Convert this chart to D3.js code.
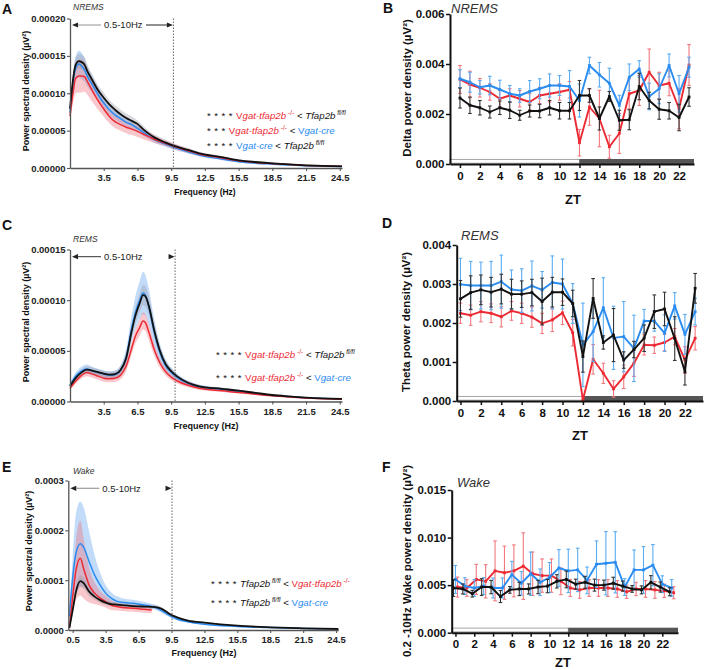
<!DOCTYPE html>
<html><head><meta charset="utf-8">
<script src="https://cdn.jsdelivr.net/npm/d3@7"></script>
<style>body{margin:0;background:#fff}svg{display:block}text{font-family:"Liberation Sans",Arial,sans-serif}</style>
</head><body><svg id="c" width="704" height="670"></svg>
<script>
// ---------- DATA ----------
// Panel A – NREMS spectrum
const fA = [0.5,0.8,1.0,1.3,1.5,1.8,2.0,2.5,3.0,3.5,4.0,4.5,5.0,5.5,6.0,6.5,7.0,7.5,8.0,9.0,10,11,12,14,15.5,17,18.5,20,21.5,23,24.7];
const aBlack = [7.9e-5,12.2e-5,13.8e-5,14.3e-5,14.2e-5,13.8e-5,13.1e-5,11.7e-5,10.4e-5,9.4e-5,8.5e-5,7.8e-5,7.2e-5,6.7e-5,6.3e-5,5.9e-5,5.2e-5,4.6e-5,4.1e-5,3.4e-5,2.85e-5,2.41e-5,1.96e-5,1.45e-5,1.03e-5,0.8e-5,0.63e-5,0.48e-5,0.36e-5,0.28e-5,0.22e-5];
const aBlue  = [7.4e-5,11.8e-5,13.3e-5,13.9e-5,13.7e-5,13.1e-5,12.4e-5,11.1e-5,9.8e-5,8.7e-5,7.8e-5,7.1e-5,6.6e-5,6.1e-5,5.8e-5,5.3e-5,4.8e-5,4.3e-5,3.8e-5,3.2e-5,2.63e-5,2.18e-5,1.74e-5,1.2e-5,0.85e-5,0.65e-5,0.52e-5,0.4e-5,0.3e-5,0.25e-5,0.2e-5];
const aRed   = [6.95e-5,10.4e-5,12.0e-5,12.3e-5,12.3e-5,12.2e-5,11.7e-5,10.3e-5,9.0e-5,7.9e-5,6.9e-5,6.2e-5,5.8e-5,5.45e-5,5.2e-5,4.9e-5,4.55e-5,4.2e-5,3.85e-5,3.3e-5,2.76e-5,2.32e-5,1.87e-5,1.35e-5,0.98e-5,0.75e-5,0.6e-5,0.46e-5,0.35e-5,0.28e-5,0.22e-5];
const aBlackSem = [0.4e-5,0.8e-5,1.0e-5,1.0e-5,1.0e-5,1.0e-5,0.9e-5,0.8e-5,0.7e-5,0.7e-5,0.6e-5,0.6e-5,0.6e-5,0.6e-5,0.6e-5,0.5e-5,0.5e-5,0.4e-5,0.4e-5,0.35e-5,0.3e-5,0.25e-5,0.2e-5,0.15e-5,0.12e-5,0.1e-5,0.08e-5,0.06e-5,0.05e-5,0.04e-5,0.03e-5];
const aBlueSem  = [0.5e-5,1.2e-5,1.6e-5,1.8e-5,1.8e-5,1.6e-5,1.4e-5,1.1e-5,0.9e-5,0.8e-5,0.7e-5,0.6e-5,0.6e-5,0.6e-5,0.6e-5,0.5e-5,0.5e-5,0.45e-5,0.4e-5,0.35e-5,0.3e-5,0.25e-5,0.2e-5,0.15e-5,0.12e-5,0.1e-5,0.08e-5,0.06e-5,0.05e-5,0.04e-5,0.03e-5];
const aRedSem   = [0.6e-5,1.5e-5,2.0e-5,2.2e-5,2.2e-5,2.0e-5,1.8e-5,1.5e-5,1.2e-5,1.0e-5,0.9e-5,0.85e-5,0.8e-5,0.8e-5,0.8e-5,0.75e-5,0.7e-5,0.6e-5,0.5e-5,0.4e-5,0.35e-5,0.3e-5,0.25e-5,0.2e-5,0.15e-5,0.12e-5,0.1e-5,0.08e-5,0.06e-5,0.05e-5,0.04e-5];

// Panel C – REMS spectrum
const fC = [0.5,1.0,1.5,2.0,2.5,3.0,3.5,4.0,4.5,5.0,5.5,6.0,6.3,6.7,7.0,7.2,7.5,8.0,8.5,9.0,9.5,10,11,12,14,15.5,17,18.5,20,21.5,23,24.7];
const cBlack = [1.5e-5,2.3e-5,2.85e-5,3.15e-5,3.05e-5,2.9e-5,2.75e-5,2.65e-5,2.7e-5,3.1e-5,4.3e-5,7.0e-5,8.4e-5,9.7e-5,10.5e-5,10.4e-5,9.5e-5,7.0e-5,5.0e-5,3.7e-5,3.0e-5,2.5e-5,1.85e-5,1.5e-5,1.25e-5,1.07e-5,0.85e-5,0.64e-5,0.5e-5,0.38e-5,0.3e-5,0.25e-5];
const cBlue  = [1.6e-5,2.5e-5,3.0e-5,3.2e-5,3.0e-5,2.85e-5,2.7e-5,2.6e-5,2.65e-5,3.1e-5,4.4e-5,7.3e-5,8.7e-5,10.0e-5,10.7e-5,10.5e-5,9.4e-5,6.8e-5,4.8e-5,3.55e-5,2.9e-5,2.4e-5,1.8e-5,1.45e-5,1.2e-5,1.0e-5,0.8e-5,0.6e-5,0.48e-5,0.37e-5,0.3e-5,0.25e-5];
const cRed   = [1.3e-5,2.0e-5,2.55e-5,2.85e-5,2.7e-5,2.5e-5,2.3e-5,2.25e-5,2.3e-5,2.6e-5,3.5e-5,5.3e-5,6.4e-5,7.3e-5,7.95e-5,7.8e-5,6.9e-5,5.1e-5,3.8e-5,2.95e-5,2.4e-5,2.05e-5,1.6e-5,1.3e-5,1.05e-5,0.9e-5,0.72e-5,0.56e-5,0.44e-5,0.34e-5,0.27e-5,0.22e-5];
const cBlackSem = [0.2e-5,0.25e-5,0.3e-5,0.3e-5,0.3e-5,0.3e-5,0.3e-5,0.3e-5,0.3e-5,0.4e-5,0.5e-5,0.7e-5,0.8e-5,0.9e-5,1.0e-5,1.0e-5,0.9e-5,0.7e-5,0.5e-5,0.4e-5,0.3e-5,0.25e-5,0.2e-5,0.15e-5,0.12e-5,0.1e-5,0.08e-5,0.06e-5,0.05e-5,0.04e-5,0.03e-5,0.03e-5];
const cBlueSem  = [0.25e-5,0.35e-5,0.4e-5,0.45e-5,0.4e-5,0.35e-5,0.35e-5,0.35e-5,0.4e-5,0.5e-5,0.8e-5,1.3e-5,1.6e-5,1.9e-5,2.1e-5,2.0e-5,1.8e-5,1.3e-5,0.9e-5,0.6e-5,0.45e-5,0.35e-5,0.25e-5,0.2e-5,0.15e-5,0.12e-5,0.1e-5,0.08e-5,0.06e-5,0.05e-5,0.04e-5,0.03e-5];
const cRedSem   = [0.2e-5,0.25e-5,0.3e-5,0.35e-5,0.35e-5,0.35e-5,0.35e-5,0.35e-5,0.35e-5,0.4e-5,0.5e-5,0.6e-5,0.7e-5,0.8e-5,0.85e-5,0.85e-5,0.8e-5,0.6e-5,0.45e-5,0.35e-5,0.3e-5,0.25e-5,0.2e-5,0.15e-5,0.12e-5,0.1e-5,0.08e-5,0.06e-5,0.05e-5,0.04e-5,0.03e-5,0.03e-5];

// Panel E – Wake spectrum
const fE = [0.2,0.5,0.8,1.2,1.5,2.0,2.5,3.0,3.5,4.0,4.5,5.0,6.0,7.0,7.7,8.0,8.5,9.0,9.5,10,11,12.5,15.5,18.5,21.5,24.7];
const fERed = [0.2,0.5,0.8,1.2,1.5,2.0,2.5,3.0,3.5,4.0,4.5,5.0,6.0,7.0,7.7];
const eBlack = [0.4e-5,4.0e-5,7.7e-5,9.8e-5,9.4e-5,7.7e-5,6.7e-5,6.0e-5,5.5e-5,5.2e-5,5.1e-5,5.0e-5,4.8e-5,4.7e-5,4.65e-5,4.6e-5,4.35e-5,3.7e-5,3.0e-5,2.55e-5,1.9e-5,1.47e-5,0.86e-5,0.54e-5,0.34e-5,0.2e-5];
const eBlue  = [2.7e-5,10.5e-5,15.4e-5,17.3e-5,16.6e-5,13.7e-5,11.0e-5,9.0e-5,7.4e-5,6.4e-5,5.8e-5,5.55e-5,5.35e-5,5.0e-5,4.7e-5,4.55e-5,4.0e-5,3.35e-5,2.7e-5,2.2e-5,1.65e-5,1.15e-5,0.72e-5,0.48e-5,0.3e-5,0.18e-5];
const eRed   = [0.4e-5,6.7e-5,12.0e-5,14.4e-5,12.3e-5,9.0e-5,7.4e-5,6.4e-5,5.7e-5,5.0e-5,4.7e-5,4.5e-5,4.35e-5,4.15e-5,4.0e-5];
const eBlackSem = [0.1e-5,0.6e-5,1.0e-5,1.2e-5,1.1e-5,0.9e-5,0.7e-5,0.6e-5,0.5e-5,0.5e-5,0.45e-5,0.45e-5,0.4e-5,0.4e-5,0.4e-5,0.4e-5,0.35e-5,0.3e-5,0.25e-5,0.2e-5,0.15e-5,0.12e-5,0.08e-5,0.05e-5,0.04e-5,0.03e-5];
const eBlueSem  = [0.5e-5,4.0e-5,8.0e-5,8.5e-5,8.0e-5,6.0e-5,4.0e-5,2.5e-5,1.6e-5,1.2e-5,1.0e-5,0.8e-5,0.7e-5,0.6e-5,0.55e-5,0.5e-5,0.45e-5,0.4e-5,0.35e-5,0.3e-5,0.2e-5,0.15e-5,0.1e-5,0.07e-5,0.05e-5,0.04e-5];
const eRedSem   = [0.3e-5,3.0e-5,6.0e-5,7.5e-5,6.0e-5,3.5e-5,2.2e-5,1.5e-5,1.2e-5,1.0e-5,0.8e-5,0.7e-5,0.7e-5,0.7e-5,0.7e-5];

// Spectrum tick labels
const specXTicksAC = [3.5,6.5,9.5,12.5,15.5,18.5,21.5,24.5];
const specXTicksE  = [0.5,3.5,6.5,9.5,12.5,15.5,18.5,21.5,24.5];
const aYTicks = [0,0.00005,0.0001,0.00015,0.0002];
const cYTicks = [0,0.00005,0.0001,0.00015];
const eYTicks = [0,0.0001,0.0002,0.0003];

// ZT panels
const zt = [0,1,2,3,4,5,6,7,8,9,10,11,12,13,14,15,16,17,18,19,20,21,22,23];
const ztTicks = [0,2,4,6,8,10,12,14,16,18,20,22];

// Panel B – Delta power (NREMS)
const bBlue  = [0.00341,0.00327,0.00307,0.00314,0.00298,0.00281,0.00274,0.0029,0.00301,0.00314,0.00314,0.0031,0.00254,0.00394,0.00357,0.00323,0.00235,0.00347,0.0038,0.0027,0.00301,0.00394,0.00281,0.00387];
const bBlueErr = [0.00036,0.0004,0.00027,0.00037,0.00037,0.00033,0.00027,0.00044,0.0004,0.00046,0.0004,0.00064,0.00066,0.00033,0.00049,0.0006,0.0004,0.00053,0.00033,0.00053,0.0006,0.00046,0.00073,0.0004];
const bRed   = [0.00338,0.00318,0.00305,0.00288,0.00261,0.00274,0.00261,0.00248,0.00274,0.00281,0.00288,0.00297,0.00085,0.00228,0.00182,0.00069,0.00122,0.00281,0.00294,0.00367,0.00314,0.00323,0.00221,0.00396];
const bRedErr = [0.00056,0.00053,0.00037,0.00033,0.00033,0.00027,0.00033,0.00033,0.00033,0.00033,0.00033,0.00033,0.00053,0.00073,0.00113,0.00046,0.0008,0.0006,0.0006,0.00093,0.00053,0.0005,0.0008,0.00082];
const bBlack = [0.00264,0.00235,0.00225,0.00208,0.00225,0.00215,0.00195,0.00212,0.00212,0.00225,0.00213,0.00213,0.00274,0.00274,0.00182,0.0027,0.00175,0.00177,0.0031,0.00254,0.00219,0.00213,0.00186,0.00268];
const bBlackErr = [0.0004,0.00033,0.00029,0.00024,0.00027,0.00033,0.0002,0.00024,0.00027,0.00029,0.00033,0.00033,0.0006,0.00027,0.00046,0.0002,0.0004,0.0004,0.00053,0.00033,0.0004,0.00033,0.00053,0.00037];
const bYTicks = [0,0.002,0.004,0.006];

// Panel D – Theta power (REMS)
const dBlue  = [0.00299,0.00296,0.00296,0.00296,0.00306,0.00286,0.00283,0.00295,0.00285,0.00304,0.003,0.0025,0.00144,0.00178,0.00239,0.00162,0.00165,0.00135,0.00205,0.00205,0.00174,0.00244,0.00171,0.00229];
const dBlueErr = [0.00067,0.00062,0.0006,0.00062,0.00068,0.0005,0.00056,0.00064,0.00047,0.00068,0.00064,0.00051,0.00107,0.00077,0.00077,0.00081,0.0009,0.00085,0.0003,0.00026,0.00047,0.00034,0.00051,0.00034];
const dRed   = [0.00225,0.0022,0.00229,0.00225,0.00216,0.00231,0.00225,0.00215,0.00199,0.00208,0.00226,0.00175,0.00003,0.00107,0.00071,0.00031,0.00062,0.00097,0.00144,0.00143,0.0015,0.00165,0.00105,0.00161];
const dRedErr = [0.00026,0.00026,0.00026,0.00024,0.00026,0.00024,0.00026,0.00026,0.00026,0.0003,0.0003,0.00034,0.00009,0.00038,0.00026,0.00021,0.0003,0.00034,0.00026,0.00021,0.00021,0.00021,0.00034,0.0003];
const dBlack = [0.00262,0.00278,0.00285,0.00279,0.00287,0.00274,0.00274,0.00278,0.00255,0.00279,0.00279,0.0025,0.00114,0.00263,0.0015,0.00169,0.00105,0.00132,0.00161,0.00229,0.00236,0.0016,0.00075,0.00289];
const dBlackErr = [0.00047,0.00043,0.00038,0.00038,0.00038,0.00038,0.00034,0.00034,0.0006,0.00038,0.00034,0.00034,0.0004,0.00051,0.00017,0.00068,0.00021,0.00021,0.00034,0.00043,0.00043,0.00056,0.00034,0.00038];
const dYTicks = [0,0.001,0.002,0.003,0.004];

// Panel F – 0.2-10 Hz Wake power
const fBlue  = [0.0056,0.0049,0.0047,0.0049,0.0047,0.0047,0.0061,0.0052,0.0062,0.0053,0.0058,0.0068,0.0065,0.0066,0.0055,0.0072,0.0073,0.0074,0.0048,0.0066,0.0066,0.0071,0.0051,0.0047];
const fBlueErr = [0.00147,0.00088,0.00088,0.00088,0.00105,0.00105,0.0014,0.00123,0.00228,0.0014,0.00158,0.00193,0.00228,0.00228,0.0014,0.00245,0.00333,0.00322,0.00088,0.0021,0.00245,0.00217,0.00088,0.00088];
const fRed   = [0.0048,0.0047,0.0056,0.0054,0.0065,0.0063,0.0065,0.007,0.0062,0.006,0.006,0.0054,0.0047,0.0045,0.0047,0.0047,0.0047,0.0046,0.0043,0.0046,0.0046,0.0045,0.0044,0.0042];
const fRedErr = [0.00105,0.00088,0.00158,0.00175,0.00315,0.0028,0.00273,0.0035,0.00228,0.00175,0.00175,0.0014,0.00088,0.00088,0.00088,0.00088,0.00088,0.00088,0.0007,0.0007,0.00088,0.00088,0.0007,0.00063];
const fBlack = [0.0047,0.0046,0.0041,0.0048,0.0048,0.0038,0.0045,0.0046,0.0046,0.0048,0.0049,0.0054,0.0056,0.0051,0.0053,0.005,0.005,0.0052,0.0049,0.0046,0.0045,0.0053,0.0048,0.0043];
const fBlackErr = [0.00088,0.00053,0.00035,0.00088,0.0007,0.00063,0.00035,0.0007,0.00053,0.0007,0.0007,0.0007,0.00088,0.00053,0.00063,0.00063,0.00053,0.00063,0.00053,0.00035,0.00042,0.0007,0.00053,0.00042];
const fYTicks = [0,0.005,0.010,0.015];

// ---------- STYLE ----------
const RED="#ec2a33", BLUE="#2a8cf0", BLACK="#111";
const RED_E="#f2787e", BLUE_E="#5aacf3", BLACK_E="#333";
const BAND_R="rgba(240,110,120,0.38)", BAND_B="rgba(110,170,240,0.42)", BAND_K="rgba(150,150,160,0.35)";
const svg = d3.select("#c");
const FONT='"Liberation Sans",Arial,sans-serif';

function txt(x,y,s,opt={}){
  return svg.append("text").attr("x",x).attr("y",y).text(s)
    .attr("font-size",opt.size||10).attr("fill",opt.fill||"#111")
    .attr("font-weight",opt.bold?"bold":"normal")
    .attr("font-style",opt.italic?"italic":"normal")
    .attr("text-anchor",opt.anchor||"start");
}
function ylabel(x,y,main,size){
  return svg.append("text").attr("transform",`translate(${x},${y}) rotate(-90)`)
    .attr("text-anchor","middle").attr("font-size",size).attr("font-weight","bold").attr("fill","#111").text(main);
}
function legendRow(x,y,parts,size){
  const t=svg.append("text").attr("x",x).attr("y",y).attr("font-size",size);
  let shifted=false;
  parts.forEach(p=>{
    const s=t.append("tspan").text(p.t).attr("fill",p.c||"#111")
      .attr("font-style",p.i?"italic":"normal");
    if(p.ls) s.attr("letter-spacing",p.ls);
    if(p.sup){ s.attr("font-size",size*0.68).attr("dy",-size*0.38); shifted=true; }
    else if(shifted){ s.attr("dy",size*0.38); shifted=false; }
  });
}

function spectrum(o){
  const x=d3.scaleLinear().domain(o.xDomain).range(o.xRange);
  const y=d3.scaleLinear().domain(o.yDomain).range(o.yRange);
  const g=svg.append("g");
  o.series.forEach(s=>{
    const pts=s.f.map((f,i)=>({f,m:s.m[i],e:s.e[i]}));
    g.append("path").datum(pts)
      .attr("d",d3.area().x(d=>x(d.f)).y0(d=>y(Math.max(0,d.m-d.e))).y1(d=>y(d.m+d.e)).curve(d3.curveMonotoneX))
      .attr("fill",s.band);
  });
  o.series.forEach(s=>{
    const pts=s.f.map((f,i)=>({f,m:s.m[i]}));
    g.append("path").datum(pts)
      .attr("d",d3.line().x(d=>x(d.f)).y(d=>y(d.m)).curve(d3.curveMonotoneX))
      .attr("fill","none").attr("stroke",s.color).attr("stroke-width",s.w||1.5);
  });
  g.append("line").attr("x1",x(o.dotF)).attr("x2",x(o.dotF)).attr("y1",o.yRange[1]).attr("y2",o.yRange[0])
    .attr("stroke","#555").attr("stroke-width",0.9).attr("stroke-dasharray","1.5,1.5");
  const ya=g.append("g").attr("transform",`translate(${o.xRange[0]},0)`)
    .call(d3.axisLeft(y).tickValues(o.yTicks).tickFormat(d3.format(o.yFmt)).tickSize(3).tickSizeOuter(0));
  const xa=g.append("g").attr("transform",`translate(0,${o.yRange[0]})`)
    .call(d3.axisBottom(x).tickValues(o.xTicks).tickFormat(d3.format(".1f")).tickSize(3).tickSizeOuter(0));
  [ya,xa].forEach(a=>{
    a.select(".domain").attr("stroke","#555").attr("stroke-width",1.3);
    a.selectAll(".tick line").attr("stroke","#555").attr("stroke-width",1.1);
    a.selectAll("text").attr("font-family",FONT).attr("font-weight","bold").attr("font-size",9.5).attr("fill","#222");
  });
  ya.selectAll("text").attr("x",-4.5);
  xa.selectAll("text").attr("y",6.5);
  const ay=o.arrowY, l0=o.xRange[0]+2, r0=x(o.dotF)-0.5;
  g.append("path").attr("d",`M${l0},${ay} L${l0+6},${ay-2.6} L${l0+6},${ay+2.6}Z`).attr("fill","#222");
  g.append("line").attr("x1",l0+6).attr("x2",l0+29).attr("y1",ay).attr("y2",ay).attr("stroke",o.leftLine).attr("stroke-width",o.leftW);
  g.append("path").attr("d",`M${r0},${ay} L${r0-6},${ay-2.6} L${r0-6},${ay+2.6}Z`).attr("fill","#222");
  if(o.rightLine) g.append("line").attr("x1",l0+74).attr("x2",r0-6).attr("y1",ay).attr("y2",ay).attr("stroke","#222").attr("stroke-width",1);
  txt(l0+32,ay+3.4,"0.5-10Hz",{size:9.5,fill:"#222"});
  return {x,y};
}

function ztPanel(o){
  const x=d3.scaleLinear().domain(o.xDomain).range(o.xRange);
  const y=d3.scaleLinear().domain(o.yDomain).range(o.yRange);
  const g=svg.append("g");
  const y0=o.yRange[0];
  g.append("rect").attr("x",o.xRange[0]).attr("y",y0-4.6).attr("width",x(12)-o.xRange[0]).attr("height",3.8)
    .attr("fill","#fff").attr("stroke","#999").attr("stroke-width",0.9);
  g.append("rect").attr("x",x(12)).attr("y",y0-5).attr("width",o.xRange[1]-x(12)).attr("height",5).attr("fill","#555");
  o.series.forEach(s=>{
    const dx=s.dx||0;
    const pts=zt.map((t,i)=>({t,m:s.m[i],e:s.e[i]}));
    const eg=g.append("g").attr("stroke",s.ecolor).attr("stroke-width",1.1);
    pts.forEach(d=>{
      const xx=x(d.t)+dx, yt=y(d.m+d.e), yb=y(Math.max(0,d.m-d.e));
      eg.append("line").attr("x1",xx).attr("x2",xx).attr("y1",yt).attr("y2",yb);
      eg.append("line").attr("x1",xx-1.8).attr("x2",xx+1.8).attr("y1",yt).attr("y2",yt);
      eg.append("line").attr("x1",xx-1.8).attr("x2",xx+1.8).attr("y1",yb).attr("y2",yb);
    });
    g.append("path").datum(pts).attr("d",d3.line().x(d=>x(d.t)+dx).y(d=>y(d.m)))
      .attr("fill","none").attr("stroke",s.color).attr("stroke-width",1.9).attr("stroke-linejoin","round");
    g.selectAll(null).data(pts).enter().append("rect")
      .attr("x",d=>x(d.t)+dx-1.4).attr("y",d=>y(d.m)-1.4).attr("width",2.8).attr("height",2.8).attr("fill",s.color);
  });
  const ya=g.append("g").attr("transform",`translate(${o.xRange[0]},0)`)
    .call(d3.axisLeft(y).tickValues(o.yTicks).tickFormat(d3.format(".3f")).tickSize(4).tickSizeOuter(0));
  const xa=g.append("g").attr("transform",`translate(0,${y0})`)
    .call(d3.axisBottom(x).tickValues(ztTicks).tickFormat(d3.format("d")).tickSize(4).tickSizeOuter(0));
  [ya,xa].forEach(a=>{
    a.select(".domain").attr("stroke","#111").attr("stroke-width",2);
    a.selectAll(".tick line").attr("stroke","#111").attr("stroke-width",1.5);
    a.selectAll("text").attr("font-family",FONT).attr("font-weight","bold").attr("font-size",o.tickSize||11.5).attr("fill","#111");
  });
  ya.selectAll("text").attr("x",-5.5);
  xa.selectAll("text").attr("y",7.5);
  return {x,y};
}

const LS=9.7;
// ---------- PANEL A ----------
spectrum({xDomain:[0.5,24.7],xRange:[70,342],yDomain:[0,0.0002],yRange:[168,18.5],yTicks:aYTicks,yFmt:".5f",
  xTicks:specXTicksAC,dotF:9.7,arrowY:25,leftLine:"#bbb",leftW:1.6,rightLine:true,
  series:[{f:fA,m:aBlue,e:aBlueSem,color:BLUE,band:BAND_B},{f:fA,m:aRed,e:aRedSem,color:RED,band:BAND_R},{f:fA,m:aBlack,e:aBlackSem,color:BLACK,band:BAND_K,w:1.8}]});
txt(2,14,"A",{size:14,bold:true});
txt(73,10,"NREMS",{size:8.5,italic:true,fill:"#333"});
ylabel(28.5,91,"Power spectral density (µV²)",9);
txt(205,195,"Frequency (Hz)",{size:8.5,bold:true,anchor:"middle"});
legendRow(207,119,[{t:"* * * * ",ls:0.4},{t:"V",c:RED},{t:"gat-tfap2b",c:RED,i:true},{t:" -/-",c:RED,sup:true},{t:" < "},{t:"Tfap2b",i:true},{t:" fl/fl",i:true,sup:true}],LS);
legendRow(207,134,[{t:"* * * ",ls:0.4},{t:"V",c:RED},{t:"gat-tfap2b",c:RED,i:true},{t:" -/-",c:RED,sup:true},{t:" < "},{t:"V",c:BLUE},{t:"gat-cre",c:BLUE,i:true}],LS);
legendRow(207,149,[{t:"* * * * ",ls:0.4},{t:"V",c:BLUE},{t:"gat-cre",c:BLUE,i:true},{t:" < "},{t:"Tfap2b",i:true},{t:" fl/fl",i:true,sup:true}],LS);

// ---------- PANEL C ----------
spectrum({xDomain:[0.5,24.7],xRange:[70,342],yDomain:[0,0.00015],yRange:[401.5,249.5],yTicks:cYTicks,yFmt:".5f",
  xTicks:specXTicksAC,dotF:9.85,arrowY:256.7,leftLine:"#333",leftW:1,rightLine:false,
  series:[{f:fC,m:cBlue,e:cBlueSem,color:BLUE,band:BAND_B},{f:fC,m:cRed,e:cRedSem,color:RED,band:BAND_R},{f:fC,m:cBlack,e:cBlackSem,color:BLACK,band:BAND_K,w:1.8}]});
txt(2,230,"C",{size:14,bold:true});
txt(73,242,"REMS",{size:8.5,italic:true,fill:"#333"});
ylabel(28.5,322,"Power spectral density (µV²)",9);
txt(206,429,"Frequency (Hz)",{size:9,bold:true,anchor:"middle"});
legendRow(216,358,[{t:"* * * * ",ls:0.4},{t:"V",c:RED},{t:"gat-tfap2b",c:RED,i:true},{t:" -/-",c:RED,sup:true},{t:" < "},{t:"Tfap2b",i:true},{t:" fl/fl",i:true,sup:true}],LS);
legendRow(216,380.5,[{t:"* * * * ",ls:0.4},{t:"V",c:RED},{t:"gat-tfap2b",c:RED,i:true},{t:" -/-",c:RED,sup:true},{t:" < "},{t:"V",c:BLUE},{t:"gat-cre",c:BLUE,i:true}],LS);

// ---------- PANEL E ----------
spectrum({xDomain:[0.1,24.7],xRange:[68.3,338.3],yDomain:[0,0.0003],yRange:[630,480.5],yTicks:eYTicks,yFmt:".4f",
  xTicks:specXTicksE,dotF:9.55,arrowY:488.3,leftLine:"#999",leftW:1.2,rightLine:false,
  series:[{f:fE,m:eBlue,e:eBlueSem,color:BLUE,band:BAND_B},{f:fERed,m:eRed,e:eRedSem,color:RED,band:BAND_R},{f:fE,m:eBlack,e:eBlackSem,color:BLACK,band:BAND_K,w:1.8}]});
txt(2,472,"E",{size:14,bold:true});
txt(73,474,"Wake",{size:8.5,italic:true,fill:"#333"});
ylabel(31.5,551,"Power spectral density (µV²)",9);
txt(204,656,"Frequency (Hz)",{size:9,bold:true,anchor:"middle"});
legendRow(211,586.5,[{t:"* * * *   ",ls:0.4},{t:"Tfap2b",i:true},{t:" fl/fl",i:true,sup:true},{t:" < "},{t:"V",c:RED},{t:"gat-tfap2b",c:RED,i:true},{t:" -/-",c:RED,sup:true}],LS);
legendRow(211,605.5,[{t:"* * * *   ",ls:0.4},{t:"Tfap2b",i:true},{t:" fl/fl",i:true,sup:true},{t:" < "},{t:"V",c:BLUE},{t:"gat-cre",c:BLUE,i:true}],LS);

// ---------- PANEL B ----------
ztPanel({xDomain:[-1,23.5],xRange:[450,694],yDomain:[0,0.006],yRange:[164,14],yTicks:bYTicks,
  series:[{m:bRed,e:bRedErr,color:RED,ecolor:RED_E},{m:bBlue,e:bBlueErr,color:BLUE,ecolor:BLUE_E},{m:bBlack,e:bBlackErr,color:BLACK,ecolor:BLACK_E}]});
txt(383,13,"B",{size:14,bold:true});
txt(451,12.5,"NREMS",{size:13,italic:true,fill:"#333"});
ylabel(411,88,"Delta power density (µV²)",11.5);
txt(573,204,"ZT",{size:13,bold:true,anchor:"middle"});

// ---------- PANEL D ----------
ztPanel({xDomain:[-0.37,23.77],xRange:[456.7,703],yDomain:[0,0.004],yRange:[401,245],yTicks:dYTicks,
  series:[{m:dRed,e:dRedErr,color:RED,ecolor:RED_E},{m:dBlue,e:dBlueErr,color:BLUE,ecolor:BLUE_E},{m:dBlack,e:dBlackErr,color:BLACK,ecolor:BLACK_E}]});
txt(382,228,"D",{size:14,bold:true});
txt(461,240,"REMS",{size:13,italic:true,fill:"#333"});
ylabel(410,322,"Theta power density (µV²)",11.5);
txt(580,440,"ZT",{size:13,bold:true,anchor:"middle"});

// ---------- PANEL F ----------
ztPanel({xDomain:[-0.4,23.67],xRange:[451.7,678],yDomain:[0,0.015],yRange:[632.7,490],yTicks:fYTicks,
  series:[{m:fRed,e:fRedErr,color:RED,ecolor:RED_E,dx:2},{m:fBlue,e:fBlueErr,color:BLUE,ecolor:BLUE_E},{m:fBlack,e:fBlackErr,color:BLACK,ecolor:BLACK_E,dx:-2}]});
txt(382,472,"F",{size:14,bold:true});
txt(457,487,"Wake",{size:13,italic:true,fill:"#333"});
ylabel(411,561,"0.2 -10Hz Wake power density  (µV²)",11.5);
txt(563,667,"ZT",{size:13,bold:true,anchor:"middle"});
</script></body></html>
